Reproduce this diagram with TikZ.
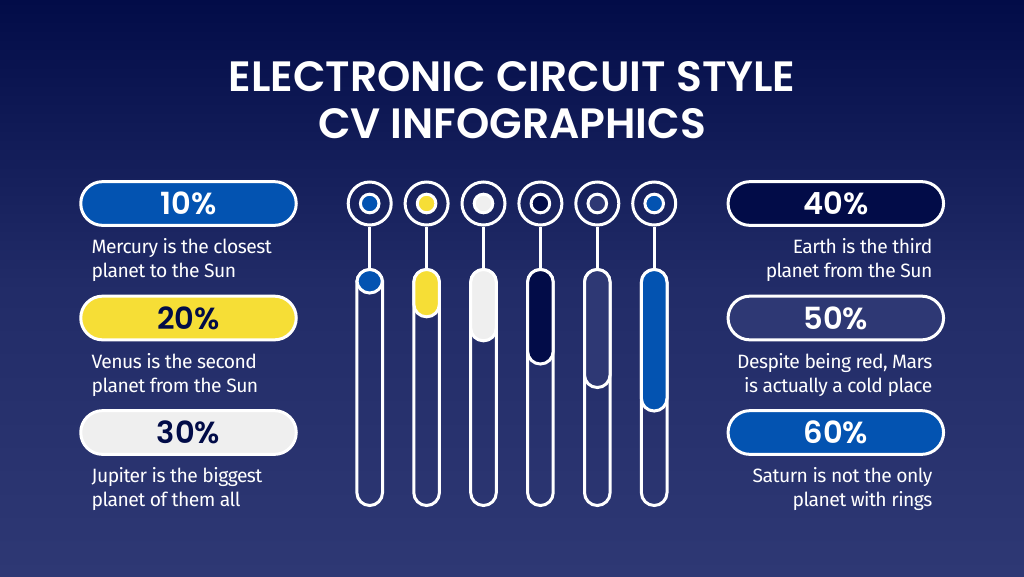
\documentclass[tikz,border=0pt]{standalone}
\usepackage{fontspec}
\setmainfont{Fira Sans}[LetterSpace=-2.8]
\newfontfamily\titlefont[Scale=1]{Poppins SemiBold}
\usetikzlibrary{backgrounds}
\definecolor{bgtop}{HTML}{020C48}
\definecolor{bgbot}{HTML}{2E3874}
\definecolor{cblue}{HTML}{0353B1}
\definecolor{cyellow}{HTML}{F6DE36}
\definecolor{cwhite}{HTML}{EFEFEF}
\definecolor{cnavy}{HTML}{020C48}
\definecolor{cmid}{HTML}{2E3874}
\tikzset{
  wire/.style={draw=white,line width=3pt},
  pill/.style={wire,rectangle,rounded corners=21.8pt,minimum width=215.5pt,minimum height=43.7pt,inner sep=0pt,
    font=\titlefont\fontsize{30.5}{30.5}\selectfont},
  blurb/.style={text=white,font=\fontsize{19.3}{24}\selectfont,inner sep=0pt},
  ring/.style={wire,circle,minimum size=43pt,inner sep=0pt},
  dot/.style={wire,circle,minimum size=18.6pt,inner sep=0pt},
}
\begin{document}
\begin{tikzpicture}[x=1pt,y=-1pt]
    \useasboundingbox (0,0) rectangle (1024,576);
    \shade[top color=bgtop,bottom color=bgbot,middle color=bgbot!72!bgtop] (0,0) rectangle (1024,576);
    \node[text=white,align=center,font=\titlefont\fontsize{42.4}{47}\selectfont] (title) at (512,100)
        {ELECTRONIC CIRCUIT STYLE\\CV INFOGRAPHICS};
    % left pills
    \node[pill,fill=cblue,text=white] (p1) at (188.5,203.5) {10\%};
    \node[pill,fill=cyellow,text=cnavy] (p2) at (188.5,318) {20\%};
    \node[pill,fill=cwhite,text=cnavy] (p3) at (188.5,432.5) {30\%};
    \node[blurb,align=left,anchor=north west] (t1) at (91.5,238.5) {Mercury is the closest\\planet to the Sun};
    \node[blurb,align=left,anchor=north west] (t2) at (91.5,353) {Venus is the second\\planet from the Sun};
    \node[blurb,align=left,anchor=north west] (t3) at (91.5,467.5) {Jupiter is the biggest\\planet of them all};
    % right pills
    \node[pill,fill=cnavy,text=white] (p4) at (835.8,203.5) {40\%};
    \node[pill,fill=cmid,text=white] (p5) at (835.8,318) {50\%};
    \node[pill,fill=cblue,text=white] (p6) at (835.8,432.5) {60\%};
    \node[blurb,align=right,anchor=north east] (t4) at (932.5,238.5) {Earth is the third\\planet from the Sun};
    \node[blurb,align=right,anchor=north east] (t5) at (932.5,353) {Despite being red, Mars\\is actually a cold place};
    \node[blurb,align=right,anchor=north east] (t6) at (932.5,467.5) {Saturn is not the only\\planet with rings};
    % bars
    \foreach \i/\x/\c/\e in {1/369.7/cblue/293,2/426.6/cyellow/316.8,3/483.5/cwhite/340.8,
                             4/540.4/cnavy/364,5/597.3/cmid/387.5,6/654.2/cblue/411} {
        \node[ring] (r\i) at (\x,203.5) {};
        \node[dot,fill=\c] (d\i) at (\x,203.5) {};
        \coordinate (b\i) at (\x,269.5);
        \draw[wire] (r\i) -- (b\i);
        \draw[wire,rounded corners=12.8pt] (\x-12.8,269.5) rectangle (\x+12.8,505.5);
        \draw[wire,fill=\c,rounded corners=12.7pt] (\x-12.8,269.5) rectangle (\x+12.8,\e);
    }
\end{tikzpicture}
\end{document}
